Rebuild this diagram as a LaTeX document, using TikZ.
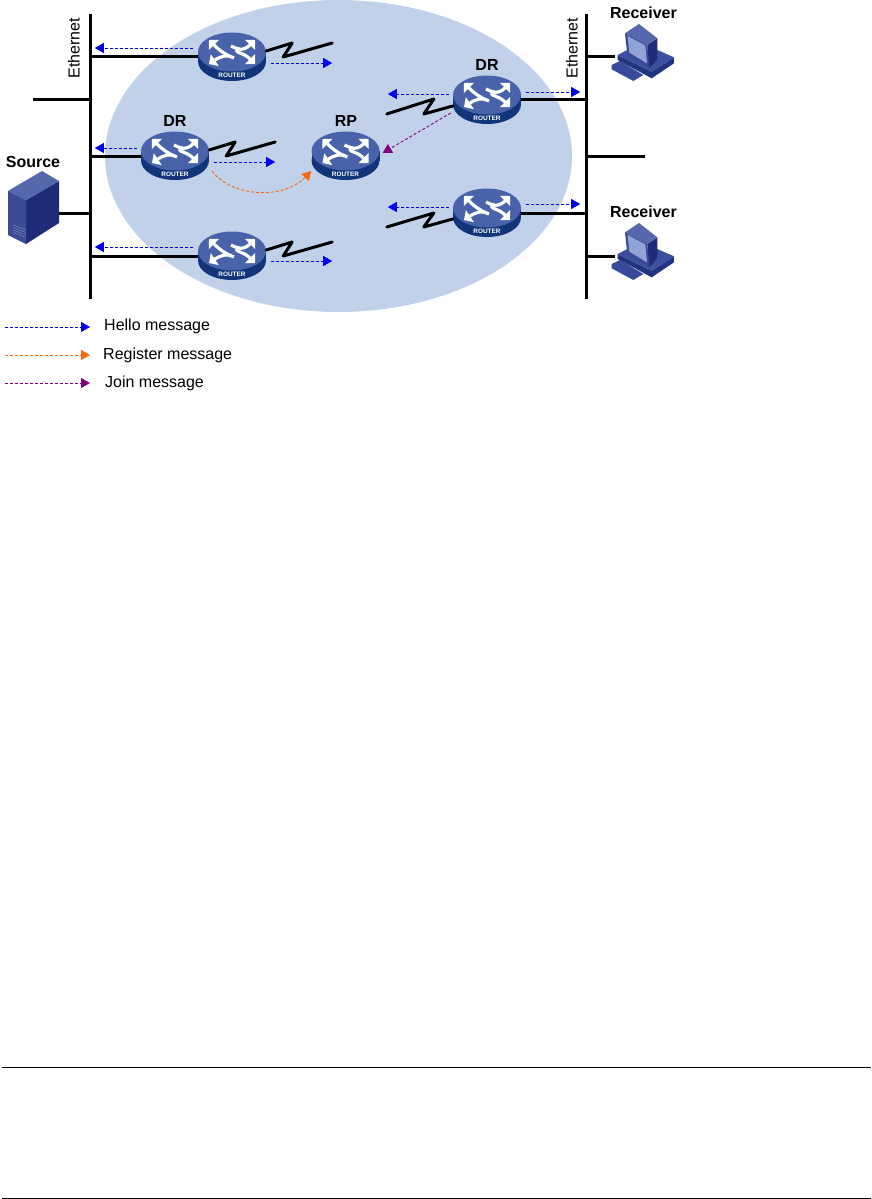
\documentclass[tikz,border=0pt]{standalone}
\usepackage{fontspec}
\setmainfont{Liberation Sans}
\usetikzlibrary{arrows.meta}
\definecolor{cloudc}{HTML}{C2D1EA}
\definecolor{rtop}{HTML}{4863AA}
\definecolor{rside}{HTML}{12357A}
\definecolor{hellow}{HTML}{0000F0}
\definecolor{regc}{HTML}{F56A10}
\definecolor{joinc}{HTML}{800080}
\definecolor{dkface}{HTML}{1F2A78}
\definecolor{ltop}{HTML}{5468AB}
\definecolor{mdface}{HTML}{3A4A94}
\definecolor{screenc}{HTML}{8FA3D6}
\definecolor{grill}{HTML}{7A88BC}
\definecolor{kbd}{HTML}{3A4A9A}
\definecolor{basedk}{HTML}{22337F}
\definecolor{basetop}{HTML}{3E4F9E}
\tikzset{
  msg/.style={line width=0.9pt,dash pattern=on 3pt off 2pt,-{Triangle[length=9pt,width=10pt]}},
  hello/.style={msg,draw=hellow},
  register/.style={msg,draw=regc},
  joinmsg/.style={msg,draw=joinc},
  wire/.style={line width=3pt,black},
  serial/.style={line width=3pt,black,line cap=round,line join=round},
  rbox/.style={inner sep=0pt,minimum width=68pt,minimum height=48pt},
  lab/.style={font=\fontsize{16}{19}\selectfont\bfseries,inner sep=0pt},
  ltext/.style={font=\fontsize{16}{19}\selectfont,inner sep=0pt,anchor=west},
  eth/.style={font=\fontsize{16}{19}\selectfont,inner sep=0pt,rotate=90},
  rarrow/.style={white,line width=3.2pt,-{Triangle[length=7pt,width=14pt]}},
}
\newcommand{\rtr}[3]{%
  \node[rbox] (#1) at (#2,#3) {};
  \begin{scope}[shift={(#2,#3)}]
    \fill[rside] (0,4.5) ellipse (34 and 19.5);
    \fill[rside] (-34,-5) rectangle (34,4.5);
    \fill[rtop] (0,-5) ellipse (34 and 19.5);
    \draw[rarrow] (-1,0) .. controls (-5,-2) and (-11,-5) .. (-23,-17);
    \draw[rarrow] (-1,-11) .. controls (5,-8) and (11,-5) .. (23,-17);
    \draw[rarrow] (2,1) .. controls (-4,-3) and (-11,-1) .. (-23,7);
    \draw[rarrow] (4,-7) .. controls (6,-3) and (11,-5) .. (23,7);
    \node[white,inner sep=0pt,font=\fontsize{6.4}{7}\selectfont\bfseries] (#1t) at (0,18) {ROUTER};
  \end{scope}}
\newcommand{\pcicon}[2]{%
  \begin{scope}[shift={(#1,#2)},shift={(-68,-57)},x=0.3333pt,y=-0.3333pt]
    \fill[kbd] (125,195) -- (150,183) -- (220,225) -- (190,243) -- (125,208) -- cycle;
    \fill[basedk] (143,165) -- (143,180) -- (245,235) -- (312,190) -- (312,172) -- (245,215) -- cycle;
    \fill[basetop] (143,165) -- (172,150) -- (262,150) -- (312,172) -- (245,215) -- cycle;
    \fill[dkface] (232,135) -- (262,115) -- (262,178) -- (238,205) -- cycle;
    \fill[ltop] (165,100) -- (207,72) -- (262,115) -- (232,135) -- cycle;
    \fill[mdface] (165,100) -- (232,135) -- (238,205) -- (172,165) -- cycle;
    \fill[screenc] (173,108) -- (226,136) -- (231,190) -- (178,158) -- cycle;
  \end{scope}}
\begin{document}
\begin{tikzpicture}[x=1pt,y=-1pt]
\useasboundingbox (0,0) rectangle (871,1199);
\fill[white] (0,0) rectangle (871,1199);
\fill[cloudc] (338.5,156) ellipse (233.5 and 156);

% buses and free junctions
\coordinate (lbt) at (90,14); \coordinate (lbb) at (90,299);
\coordinate (rbt) at (586,14); \coordinate (rbb) at (586,299);
\draw[wire] (lbt) -- (lbb);
\draw[wire] (rbt) -- (rbb);
\coordinate (lstub) at (33,99); \coordinate (lj) at (90,99);
\coordinate (rstub) at (645,156); \coordinate (rj) at (586,156);
\draw[wire] (lstub) -- (lj);
\draw[wire] (rj) -- (rstub);

\node[inner sep=0pt,minimum width=51pt,minimum height=74pt] (src) at (33.5,213) {};
\coordinate (j1) at (90,57); \coordinate (j2) at (90,156); \coordinate (j3) at (90,256);
\coordinate (j4) at (90,213);
\coordinate (j5) at (586,99); \coordinate (j6) at (586,213);
\coordinate (j7) at (586,57); \coordinate (j8) at (586,256);
\draw[wire] (src.east) -- (j4);

\node[inner sep=0pt,minimum width=46pt,minimum height=58pt] (pcA) at (638,57) {};
\node[inner sep=0pt,minimum width=46pt,minimum height=58pt] (pcB) at (638,256) {};
\draw[wire] (j7) -- (pcA.west);
\draw[wire] (j8) -- (pcB.west);

% routers
\rtr{r1}{232}{57}
\rtr{r2}{175}{156}
\rtr{rp}{345.5}{156}
\rtr{r3}{487}{100}
\rtr{r4}{487}{213}
\rtr{r5}{232}{256}
\draw[wire] (j1) -- (r1.west);
\draw[wire] (j2) -- (r2.west);
\draw[wire] (j3) -- (r5.west);
\draw[wire] (j5) -- (r3.east |- j5);
\draw[wire] (j6) -- (r4.east);

% serial links
\draw[serial] ([shift={(0,-6)}]r1.east) -- ++(26,-8) -- ++(-9,14) -- ++(49,-14);
\draw[serial] ([shift={(0,-6)}]r2.east) -- ++(26,-8) -- ++(-9,14) -- ++(49,-14);
\draw[serial] ([shift={(0,-6)}]r5.east) -- ++(26,-8) -- ++(-9,14) -- ++(49,-14);
\draw[serial] ([shift={(0,6)}]r3.west) -- ++(-29,8) -- ++(10,-15) -- ++(-47,15);
\draw[serial] ([shift={(0,6)}]r4.west) -- ++(-29,8) -- ++(10,-14) -- ++(-47,14);

% messages
\draw[hello] ([shift={(-5,-9)}]r1.west) -- ++(-98,0);
\draw[hello] ([shift={(5,6)}]r1.east) -- ++(61,0);
\draw[hello] ([shift={(-4,-8)}]r2.west) -- ++(-42,0);
\draw[hello] ([shift={(5,6)}]r2.east) -- ++(61,0);
\draw[hello] ([shift={(-5,-9)}]r5.west) -- ++(-98,0);
\draw[hello] ([shift={(5,5)}]r5.east) -- ++(61,0);
\draw[hello] ([shift={(-4,-6)}]r3.west) -- ++(-61,0);
\draw[hello] ([shift={(5,-8)}]r3.east) -- ++(54,0);
\draw[hello] ([shift={(-4,-6)}]r4.west) -- ++(-61,0);
\draw[hello] ([shift={(5,-9)}]r4.east) -- ++(54,0);
\draw[register] ([shift={(3,-9)}]r2.south east) .. controls +(20,26) and ([shift={(-28,44)}]rp.west) .. ([shift={(0,15)}]rp.west);
\draw[joinmsg] ([shift={(-2,13)}]r3.west) -- ([shift={(3,-3)}]rp.east);

% server
\fill[dkface] (26,200) -- (59,181) -- (59,223) -- (26,244) -- cycle;
\fill[ltop] (8,191) -- (42,171) -- (59,181) -- (26,200) -- cycle;
\fill[mdface] (8,191) -- (26,200) -- (26,244) -- (8,235) -- cycle;
\foreach \yy in {225,227.5,230,232.5}
  \draw[grill,line width=0.5pt] (13,\yy) -- (26,\yy+5);

% PCs
\pcicon{638}{57}
\pcicon{638}{256}

% labels
\node[lab] (ldr1) at (175,121) {DR};
\node[lab] (lrp) at (346,121) {RP};
\node[lab] (ldr2) at (487,65) {DR};
\node[lab] (lsrc) at (33,162) {Source};
\node[lab] (lrc1) at (643.5,13) {Receiver};
\node[lab] (lrc2) at (643.5,212) {Receiver};
\node[eth] (le1) at (74,48) {Ethernet};
\node[eth] (le2) at (572,48) {Ethernet};

% legend
\coordinate (a1) at (5,327); \coordinate (a2) at (5,355); \coordinate (a3) at (5,383);
\node[ltext] (t1) at (104,326) {Hello message};
\node[ltext] (t2) at (103,355) {Register message};
\node[ltext] (t3) at (105,383) {Join message};
\draw[hello] (a1) -- ++(85,0);
\draw[register] (a2) -- ++(85,0);
\draw[joinmsg] (a3) -- ++(85,0);

% rules
\coordinate (f1) at (2,1067); \coordinate (f2) at (871,1067);
\coordinate (f3) at (2,1198); \coordinate (f4) at (871,1198);
\draw[black,line width=1pt] (f1) -- (f2);
\draw[black,line width=1pt] (f3) -- (f4);
\end{tikzpicture}
\end{document}
